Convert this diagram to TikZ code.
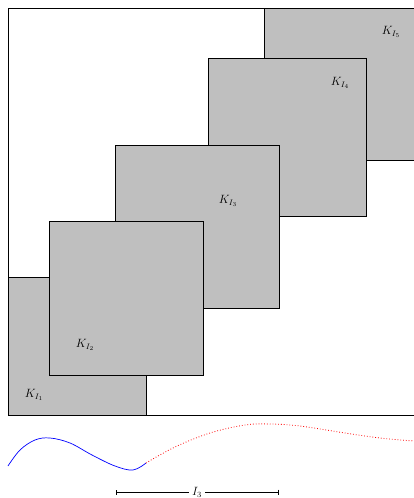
\documentclass[tikz,border=0pt]{standalone}
\usepackage{amsmath,amssymb}
\usepackage{tikz}
\usetikzlibrary{arrows.meta, positioning}

\begin{document}
\begin{tikzpicture}[
    x=1pt, y=-1pt,
    kbox/.style={draw=black, fill=lightgray, line width=0.8pt},
    klabel/.style={inner sep=0pt, font=\large},
    bar/.style={{Bar[width=5pt]}-, line width=0.8pt}
]
    \useasboundingbox (0,0) rectangle (414,498);
    \clip (0,0) rectangle (414,498);
    % frame
    \draw[line width=0.8pt] (8,8) rectangle (418,415);
    % squares, back to front
    \draw[kbox] (8,277) rectangle (146,415);
    \draw[kbox] (264,8) rectangle (430,160);
    \draw[kbox] (208,58) rectangle (366,216);
    \draw[kbox] (115,145) rectangle (279,308);
    \draw[kbox] (49,221) rectangle (203,375);
    \node[klabel] (k1) at (34,395) {$K_{I_1}$};
    \node[klabel] (k2) at (85,345) {$K_{I_2}$};
    \node[klabel] (k3) at (228,201) {$K_{I_3}$};
    \node[klabel] (k4) at (340,83) {$K_{I_4}$};
    \node[klabel] (k5) at (391,32) {$K_{I_5}$};
    % curve
    \draw[blue, line width=0.7pt] plot[smooth, tension=0.6] coordinates {(8,466) (20,450) (35,440) (50,438) (70,443) (92,455) (115,466) (133,470) (146,463)};
    \draw[red, dotted, line width=0.8pt] plot[smooth, tension=0.6] coordinates {(146,463) (175,447) (210,433) (245,425) (270,424) (300,426) (345,433) (380,438) (414,441)};
    % interval
    \node[klabel, fill=white, inner sep=3pt] (i3) at (197,492) {$I_3$};
    \coordinate (i3l) at (116,492);
    \coordinate (i3r) at (279,492);
    \draw[bar] (i3l) -- (i3.west);
    \draw[bar] (i3r) -- (i3.east);
\end{tikzpicture}
\end{document}
